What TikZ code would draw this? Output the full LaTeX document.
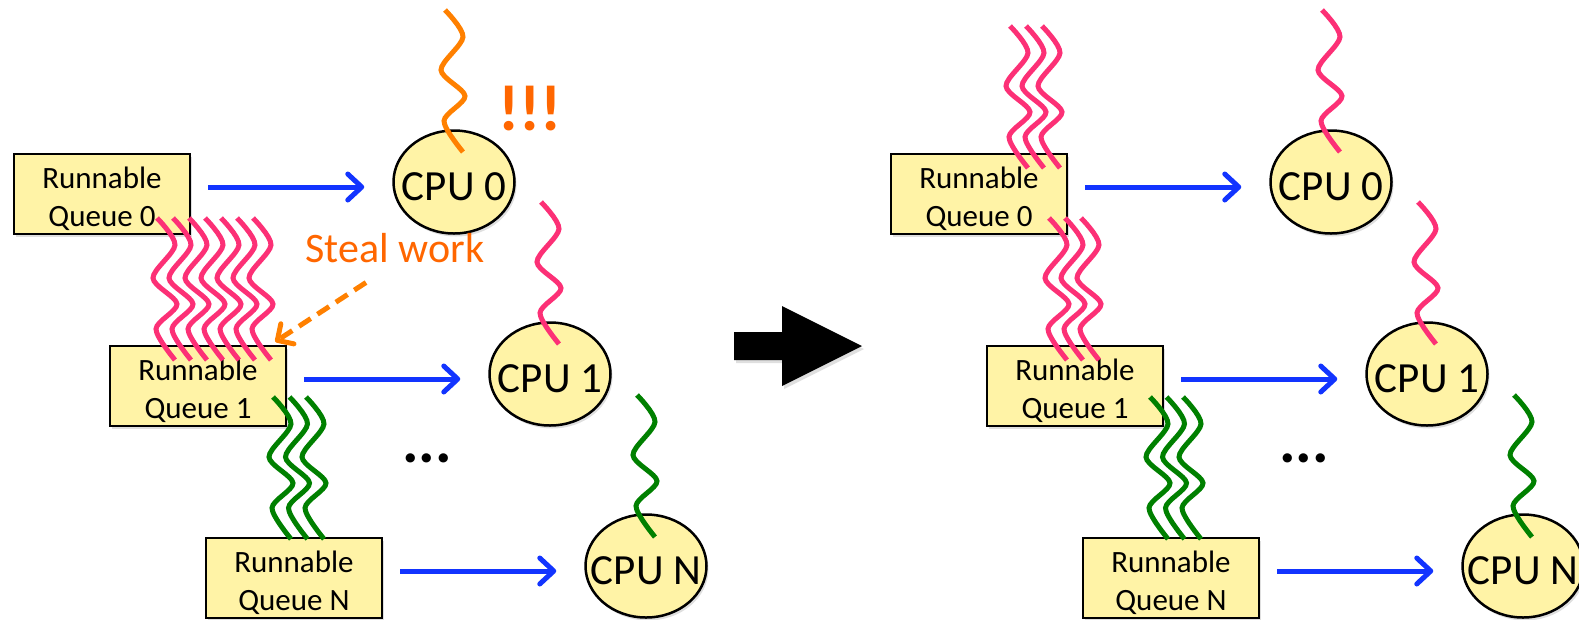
\documentclass[tikz,border=0pt]{standalone}
\usepackage{fontspec}
\setmainfont{Carlito}
\usetikzlibrary{
    arrows.meta,
    shapes.geometric,
    shadows
}

\definecolor{queuefill}{RGB}{255,243,166}
\definecolor{flowblue}{RGB}{18,52,255}
\definecolor{pinkthread}{RGB}{252,48,118}
\definecolor{orangethread}{RGB}{255,128,0}
\definecolor{greenthread}{RGB}{0,128,0}
\definecolor{alertorange}{RGB}{255,102,0}

% keep the ellipse from growing with its label
\newcommand{\cpulabel}[1]{\makebox[60pt]{#1}}

\tikzset{
    softshadow/.style={drop shadow={shadow xshift=2pt, shadow yshift=-3pt, opacity=0.25}},
    queue/.style={draw, line width=2.5pt, fill=queuefill, softshadow, minimum width=176pt, minimum height=80pt,
        inner sep=0pt, align=center, text height=64pt, text depth=0pt, font=\fontsize{31}{38}\selectfont},
    cpu/.style={ellipse, draw, line width=2.5pt, fill=queuefill, softshadow, minimum width=121pt, minimum height=103pt,
        inner sep=0pt, text height=36pt, text depth=0pt, font=\fontsize{43}{43}\selectfont},
    flow/.style={draw=flowblue, line width=5pt, -{Straight Barb[length=14pt, width=26pt, round]},
        shorten <=17pt, shorten >=28pt},
    steal/.style={draw=orangethread, line width=5pt, dash pattern=on 14pt off 8pt,
        -{Straight Barb[length=12pt, width=24pt, round]}},
    thread/.pic={\draw[pic actions, line width=5pt] plot[smooth] coordinates {(0,0) (18,27) (-4,60) (20,86) (-1,111) (18,142)};}
}

\begin{document}
\begin{tikzpicture}[x=1pt, y=-1pt]
    \useasboundingbox (0,0) rectangle (1579,619);

    % before: queue 1 is overloaded
    \node[queue] (q0) at (102,194) {Runnable\\Queue 0};
    \node[queue] (q1) at (198,386) {Runnable\\Queue 1};
    \node[queue] (qN) at (294,578) {Runnable\\Queue N};
    \node[cpu] (cpu0) at (454,182) {\cpulabel{CPU 0}};
    \node[cpu] (cpu1) at (550,374) {\cpulabel{CPU 1}};
    \node[cpu] (cpuN) at (646,566) {\cpulabel{CPU N}};

    \draw[flow] ([yshift=7pt]q0.east) -- ([yshift=-5pt]cpu0.west);
    \draw[flow] ([yshift=7pt]q1.east) -- ([yshift=-5pt]cpu1.west);
    \draw[flow] ([yshift=7pt]qN.east) -- ([yshift=-5pt]cpuN.west);

    \node[text=alertorange, font=\fontsize{65}{65}\selectfont\bfseries, inner sep=0pt, anchor=base] (alert) at (530,130) {!!!};
    \node[text=alertorange, font=\fontsize{42}{42}\selectfont, inner sep=0pt, anchor=base] (steal) at (395,262) {Steal work};
    \node[font=\fontsize{62}{62}\selectfont\bfseries, inner sep=0pt, anchor=base] (dots) at (427,462) {...};
    \draw[steal] ([xshift=-29pt,yshift=-20pt]steal.south) -- ([xshift=-12pt,yshift=3pt]q1.north east);

    \pic[orangethread] at (445,10) {thread};
    \pic[pinkthread] at (541,202) {thread};
    \pic[greenthread] at (637,395) {thread};
    \foreach \i in {0,...,6}
        \pic[pinkthread] at (157+16*\i,218) {thread};
    \foreach \i in {0,1,2}
        \pic[greenthread] at (273+16.5*\i,397) {thread};

    % big arrow
    \fill[softshadow] (734,332) -- (782,332) -- (782,306) -- (862,346) -- (782,386) -- (782,360) -- (734,360) -- cycle;

    % after: work spread out
    \node[queue] (rq0) at (979,194) {Runnable\\Queue 0};
    \node[queue] (rq1) at (1075,386) {Runnable\\Queue 1};
    \node[queue] (rqN) at (1171,578) {Runnable\\Queue N};
    \node[cpu] (rcpu0) at (1331,182) {\cpulabel{CPU 0}};
    \node[cpu] (rcpu1) at (1427,374) {\cpulabel{CPU 1}};
    \node[cpu] (rcpuN) at (1523,566) {\cpulabel{CPU N}};

    \draw[flow] ([yshift=7pt]rq0.east) -- ([yshift=-5pt]rcpu0.west);
    \draw[flow] ([yshift=7pt]rq1.east) -- ([yshift=-5pt]rcpu1.west);
    \draw[flow] ([yshift=7pt]rqN.east) -- ([yshift=-5pt]rcpuN.west);

    \node[font=\fontsize{62}{62}\selectfont\bfseries, inner sep=0pt, anchor=base] (rdots) at (1304,462) {...};

    \pic[pinkthread] at (1322,10) {thread};
    \pic[pinkthread] at (1418,202) {thread};
    \pic[greenthread] at (1514,395) {thread};
    \foreach \i in {0,1,2} {
        \pic[pinkthread] at (1010+16*\i,26) {thread};
        \pic[pinkthread] at (1049+16*\i,218) {thread};
        \pic[greenthread] at (1150+16.5*\i,397) {thread};
    }
\end{tikzpicture}
\end{document}
